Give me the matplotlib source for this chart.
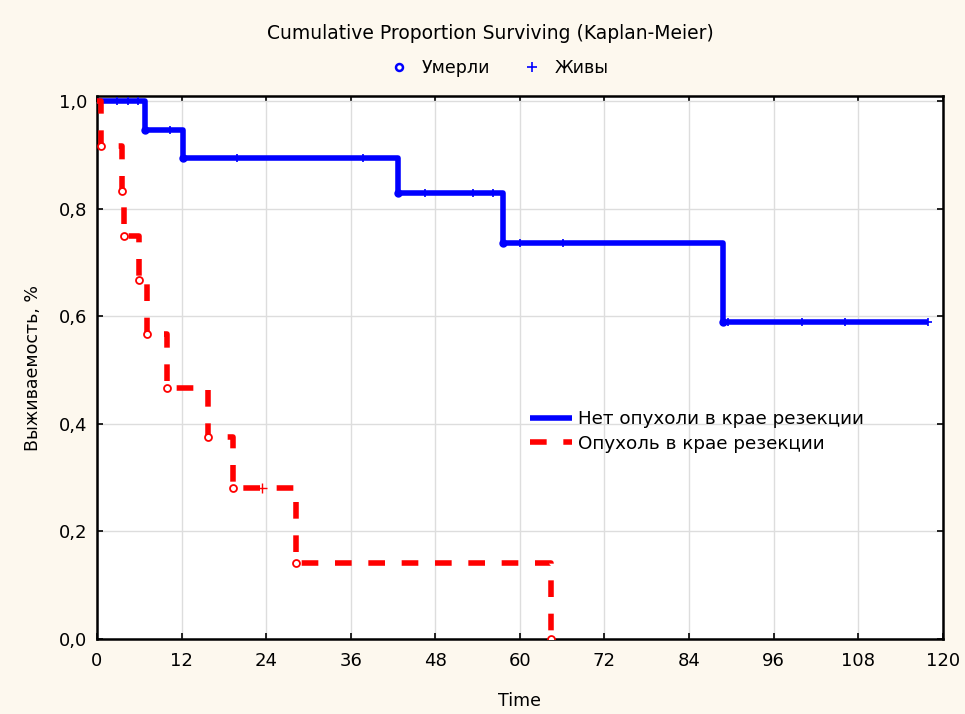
import numpy as np
import matplotlib.pyplot as plt
from matplotlib.lines import Line2D

# Kaplan-Meier steps (months, proportion surviving)
t_no = [0, 6.8, 12.2, 42.7, 57.6, 88.8, 117.9]
s_no = [1.0, 0.947, 0.895, 0.829, 0.737, 0.589, 0.589]
cens_no = [2.8, 4.4, 5.8, 10.4, 19.9, 37.7, 46.5, 53.3, 56.2, 60.0, 66.1,
           89.5, 100.0, 106.1, 117.9]

t_yes = [0, 0.6, 3.5, 3.8, 6.0, 7.1, 9.9, 15.7, 19.3, 28.2, 64.4]
s_yes = [1.0, 0.917, 0.833, 0.75, 0.667, 0.567, 0.467, 0.375, 0.281, 0.141, 0.0]
cens_yes = [23.4]

label_no = 'Нет опухоли в крае резекции'
label_yes = 'Опухоль в крае резекции'
blue = '#0000ff'
red = '#ff0000'


def value_at(times, surv, t):
    i = np.searchsorted(times, t, side='right') - 1
    return np.array(surv)[i]


plt.rcParams['font.family'] = ['DejaVu Sans']

fig = plt.figure(figsize=(9.65, 7.14), dpi=100, facecolor='#fdf8ee')
ax = fig.add_axes([0.1005, 0.105, 0.8765, 0.76])
ax.set_facecolor('white')

ax.plot(t_no, s_no, drawstyle='steps-post', color=blue, lw=4,
        label=label_no, solid_capstyle='butt', zorder=3)
ax.plot(t_yes, s_yes, drawstyle='steps-post', color=red, lw=4,
        dashes=(3.0, 3.0), label=label_yes, zorder=3)

# deaths (open circles) and censored cases (+)
ax.plot(t_no[1:-1], s_no[1:-1], 'o', ms=5, mfc=blue, mec=blue, zorder=4)
ax.plot(cens_no, value_at(t_no, s_no, cens_no), '+', ms=6, mew=1.2,
        color=blue, zorder=4)
ax.plot(t_yes[1:], s_yes[1:], 'o', ms=5, mfc='white', mec=red, mew=1.3,
        zorder=4)
ax.plot(cens_yes, value_at(t_yes, s_yes, cens_yes), '+', ms=7, mew=1.0,
        color=red, zorder=4)

ax.set_xlim(0, 120)
ax.set_ylim(0, 1.009)
ax.set_xticks(np.arange(0, 121, 12))
ax.set_yticks(np.arange(0, 1.01, 0.2))
ax.set_yticklabels(['0,0', '0,2', '0,4', '0,6', '0,8', '1,0'])
ax.grid(True, color='#dddddd', lw=1)
ax.set_axisbelow(True)
ax.tick_params(direction='in', length=4, width=1.2, labelsize=13,
               colors='black', top=True, right=True)
ax.tick_params(axis='x', pad=9)
ax.tick_params(axis='y', pad=7)
for sp in ax.spines.values():
    sp.set_linewidth(1.8)

ax.set_xlabel('Time', fontsize=12.5, labelpad=16)
ax.set_ylabel('Выживаемость, %', fontsize=12.5, labelpad=12)

ax.legend(loc='upper left', bbox_to_anchor=(0.503, 0.435), frameon=False,
          fontsize=13.2, handlelength=2.3, handletextpad=0.35,
          labelspacing=0.35, borderaxespad=0)

fig.text(0.508, 0.953, 'Cumulative Proportion Surviving (Kaplan-Meier)',
         ha='center', va='center', fontsize=13.5)
marks = [Line2D([], [], ls='none', marker='o', ms=5, mfc='white', mec=blue,
                mew=1.8),
         Line2D([], [], ls='none', marker='+', ms=7, mew=1.2, color=blue)]
fig.legend(marks, ['Умерли', 'Живы'], loc='center', ncol=2, frameon=False,
           bbox_to_anchor=(0.513, 0.905), fontsize=12.5, handletextpad=0.3,
           columnspacing=1.4)

fig.savefig('out.png', dpi=100, facecolor=fig.get_facecolor())
